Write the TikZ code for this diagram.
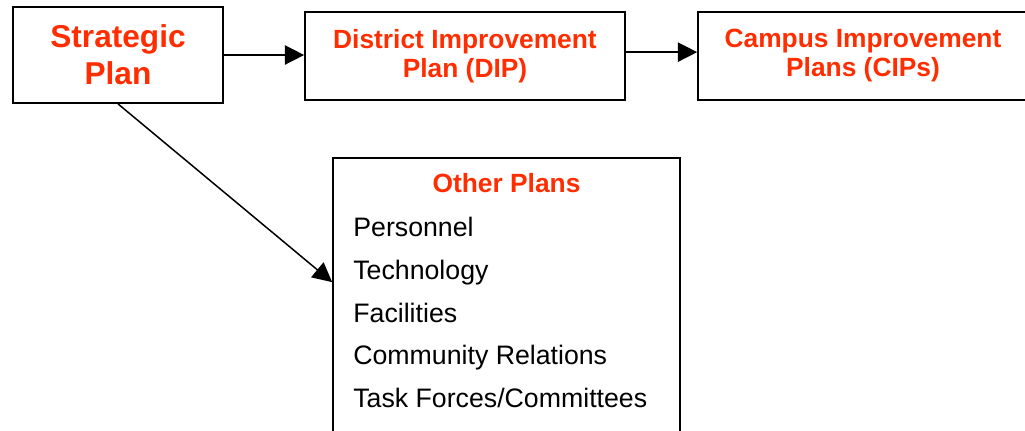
\documentclass[tikz,border=0pt]{standalone}
\usepackage{fontspec}
\setmainfont{Liberation Sans}
\usetikzlibrary{arrows.meta}
\definecolor{planred}{RGB}{255,45,0}

\begin{document}
\begin{tikzpicture}[x=0.02cm, y=-0.02cm,
    planbox/.style = {draw, line width = 0.35mm, rectangle},
    headtext/.style = {text = planred, font = \bfseries\fontsize{15}{16.5}\selectfont, align = center},
    itemtext/.style = {anchor = base west, inner sep = 0pt, font = \fontsize{15.2}{16}\selectfont},
    planarrow/.style = {line width = 0.3mm, -{Triangle[length=11pt, width=11pt]}}]

                    \useasboundingbox (0,0) rectangle (1025,430);

                    % Top row of plans
                    \node[planbox, minimum width = 4.2cm, minimum height = 1.92cm,
                          text = planred, align = center,
                          font = \bfseries\fontsize{18}{21}\selectfont] (strat) at (118,55) {Strategic\\Plan};
                    \node[planbox, minimum width = 6.4cm, minimum height = 1.76cm, headtext] (dip) at (465,56) {District Improvement\\Plan (DIP)};
                    \node[planbox, minimum width = 6.6cm, minimum height = 1.76cm, headtext] (cip) at (863,56) {Campus Improvement\\Plans (CIPs)};

                    % Box of other plans
                    \node[planbox, minimum width = 6.94cm, minimum height = 5.64cm] (other) at (506.5,299) {};
                    \node[headtext, inner sep = 0pt, anchor = base] (othertitle) at (506.5,192) {Other Plans};
                    \node[itemtext] (personnel) at (353,236) {Personnel};
                    \node[itemtext] (technology) at (353,279) {Technology};
                    \node[itemtext] (facilities) at (353,322) {Facilities};
                    \node[itemtext] (community) at (353,364) {Community Relations};
                    \node[itemtext] (taskforces) at (353,407) {Task Forces/Committees};

                    % Arrows
                    \draw[planarrow] (strat.east) -- (strat.east -| dip.west);
                    \draw[planarrow] ([yshift=2.2pt]dip.east) -- ([yshift=2.2pt]dip.east -| cip.west);
                    \draw[planarrow] (strat.south) -- ([yshift=9.6pt]other.west);

                \end{tikzpicture}
\end{document}
